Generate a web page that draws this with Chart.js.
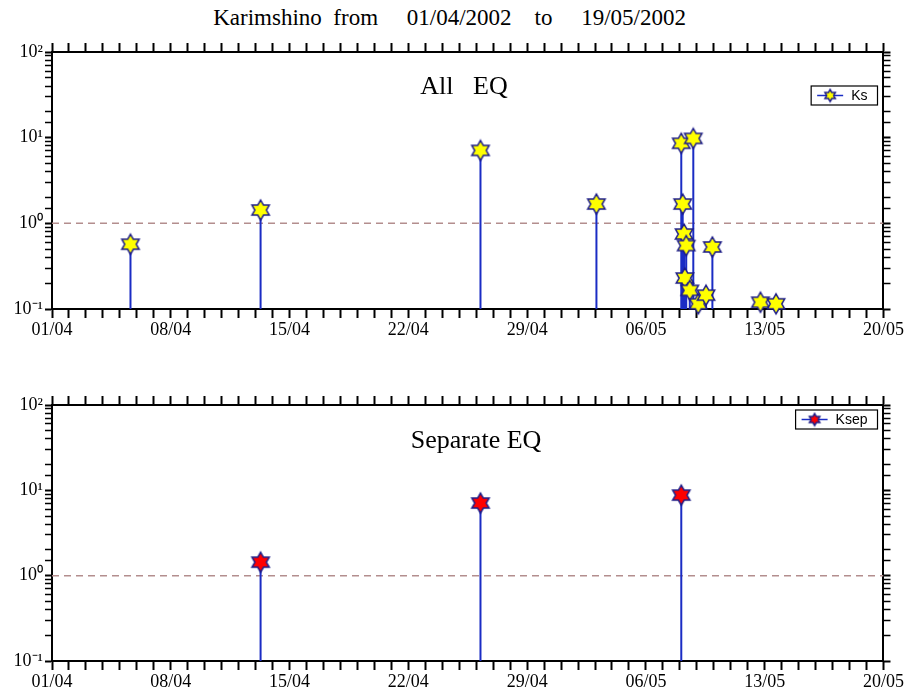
<!DOCTYPE html>
<html><head><meta charset="utf-8">
<script src="https://cdn.jsdelivr.net/npm/chart.js@4.4.1/dist/chart.umd.min.js"></script>
<style>
body{margin:0;background:#fff;width:905px;height:690px;position:relative;overflow:hidden;font-family:"Liberation Serif",serif}
#title{position:absolute;left:0;top:5px;width:905px;text-align:center;font-size:23px;white-space:pre;color:#000}
.box{position:absolute;left:0;width:905px;height:345px}
</style></head><body>
<div id="title">Karimshino  from     01/04/2002    to     19/05/2002 </div>
<div class="box" style="top:0"><canvas id="c1" width="905" height="345"></canvas></div>
<div class="box" style="top:345px"><canvas id="c2" width="905" height="345"></canvas></div>
<script>
// event times (dd/mm hh:mm, 2002) and energy class values
const xTickLabels = ['01/04','08/04','15/04','22/04','29/04','06/05','13/05','20/05'];
const allTimes = ['05/04 15:00','13/04 07:00','26/04 06:00','03/05 02:00',
  '08/05 02:00','08/05 04:00','08/05 06:00','08/05 09:00','08/05 07:00','08/05 14:00',
  '08/05 19:00','09/05 02:00','09/05 13:00','09/05 22:00','12/05 18:00','13/05 16:00'];
const allKs = [0.57, 1.43, 7.1, 1.68,
  8.6, 1.68, 0.75, 0.55, 0.23, 0.165,
  9.8, 0.115, 0.145, 0.53, 0.12, 0.115];
const sepTimes = ['13/04 07:00','26/04 06:00','08/05 02:00'];
const sepKsep = [1.44, 7.1, 8.8];
const refLevel = 1;

const BLUE = '#1a2cc4', NAVY = '#1c1c88';
const SERIF = "'Liberation Serif', serif";
Chart.defaults.font.family = SERIF;
Chart.defaults.color = '#000';

function toDay(s){
  const [dm, hm] = s.split(' ');
  const [d, m] = dm.split('/').map(Number);
  const [h, mi] = hm.split(':').map(Number);
  return (Date.UTC(2002, m-1, d, h, mi) - Date.UTC(2002, 3, 1)) / 86400000;
}

function starImg(r, fill){
  const c = document.createElement('canvas');
  const s = Math.ceil(2*r + 4);
  c.width = c.height = s;
  const g = c.getContext('2d');
  g.translate(s/2, s/2);
  g.beginPath();
  for (let k = 0; k < 12; k++){
    const a = -Math.PI/2 + k*Math.PI/6;
    const rr = k % 2 ? r/Math.sqrt(3) : r;
    g.lineTo(rr*Math.cos(a), rr*Math.sin(a));
  }
  g.closePath();
  g.fillStyle = fill; g.fill();
  g.lineWidth = 1.5; g.strokeStyle = NAVY; g.stroke();
  return c;
}

function isDecade(v){ const l = Math.log10(v); return Math.abs(l - Math.round(l)) < 1e-6; }
const sup = {'-1':'10⁻¹','0':'10⁰','1':'10¹','2':'10²'};

const overlay = {
  id: 'overlay',
  afterDraw(chart, args, o){
    const {ctx, chartArea: a} = chart;
    ctx.save();
    ctx.fillStyle = '#000';
    ctx.font = '26px ' + SERIF;
    ctx.textAlign = 'center'; ctx.textBaseline = 'middle';
    ctx.fillText(o.text, o.textX, a.top + o.textY);
    // legend box
    ctx.font = "14px 'Liberation Sans', sans-serif";
    const tw = ctx.measureText(o.label).width;
    const w = 40 + tw + 10, h = 19;
    const x = a.right - 6 - w, y = a.top + o.legY;
    ctx.fillStyle = '#fff'; ctx.fillRect(x, y, w, h);
    ctx.strokeStyle = '#000'; ctx.lineWidth = 1.2; ctx.strokeRect(x, y, w, h);
    ctx.strokeStyle = BLUE; ctx.lineWidth = 1.5;
    ctx.beginPath(); ctx.moveTo(x+6, y+h/2); ctx.lineTo(x+32, y+h/2); ctx.stroke();
    const im = starImg(6, o.fill);
    ctx.drawImage(im, x+19-im.width/2, y+h/2-im.height/2);
    ctx.fillStyle = '#000'; ctx.textAlign = 'left';
    ctx.fillText(o.label, x+40, y+h/2+0.5);
    ctx.restore();
  }
};

function makeChart(id, times, vals, fill, label, text, textX, textY, legY, topH, botH){
  const days = times.map(toDay);
  const stems = [];
  days.forEach((t, i) => { stems.push({x:t, y:0.1}, {x:t, y:vals[i]}, {x:t, y:null}); });
  const pts = days.map((t, i) => ({x:t, y:vals[i]}));
  const tickFont = {family:SERIF, size:18};
  const grid = {drawOnChartArea:false, tickLength:9, tickColor:'#000', tickWidth:2};
  const border = {color:'#000', width:2};
  const ygrid = {drawOnChartArea:false, tickLength:7, tickColor:'#000',
    tickWidth: c => (c.tick && isDecade(c.tick.value)) ? 2 : 1.5};
  return new Chart(document.getElementById(id), {
    type: 'line',
    data: { datasets: [
      { data: pts, showLine:false, pointStyle: starImg(10, fill), pointRadius:10, order:1, clip:14 },
      { data: stems, borderColor: BLUE, borderWidth:2, pointRadius:0, spanGaps:false, order:2 },
      { data: [{x:0, y:refLevel}, {x:49, y:refLevel}], borderColor:'#b38e8e', borderWidth:1.5,
        borderDash:[7,5], pointRadius:0, order:3 }
    ]},
    options: {
      responsive:false, animation:false, events:[],
      layout:{padding:0},
      plugins:{ legend:{display:false}, tooltip:{enabled:false},
        overlay:{text, textX, textY, legY, label, fill} },
      scales: {
        x: { type:'linear', position:'bottom', min:0, max:49,
          ticks:{ stepSize:1, autoSkip:false, maxRotation:0, color:'#000', font:tickFont, padding:1,
            callback: v => v % 7 === 0 ? xTickLabels[v/7] : '' },
          grid, border, afterFit: s => { s.height = botH; } },
        x2: { type:'linear', position:'top', min:0, max:49,
          ticks:{ stepSize:1, autoSkip:false, maxRotation:0, callback: () => '' },
          grid, border, afterFit: s => { s.height = topH; } },
        y: { type:'logarithmic', position:'left', min:0.1, max:100,
          ticks:{ autoSkip:false, color:'#000', font:tickFont, padding:2,
            callback: v => isDecade(v) ? sup[Math.round(Math.log10(v))] : '' },
          grid: ygrid, border, afterFit: s => { s.width = 52; } },
        y2: { type:'logarithmic', position:'right', min:0.1, max:100, display:true,
          ticks:{ autoSkip:false, callback: () => '' },
          grid: ygrid, border, afterFit: s => { s.width = 19; } }
      }
    },
    plugins:[overlay]
  });
}

makeChart('c1', allTimes, allKs, '#ffff00', 'Ks', 'All   EQ', 464, 35, 34, 52, 36);
makeChart('c2', sepTimes, sepKsep, '#ff0000', 'Ksep', 'Separate EQ', 476, 36, 5, 60, 29);
</script>
</body></html>
